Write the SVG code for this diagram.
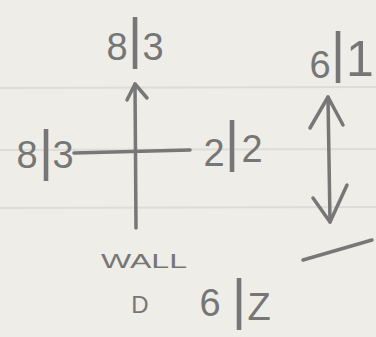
<svg xmlns="http://www.w3.org/2000/svg" width="376" height="337" viewBox="0 0 376 337">
<defs>
<style>
.bg{fill:#efede7}
.rule{stroke:#dcdcd8;stroke-width:2;fill:none}
.pen{stroke:#777777;stroke-width:3.5;fill:none;stroke-linecap:round;stroke-linejoin:round}
.t{font-family:"Liberation Sans","DejaVu Sans",sans-serif;fill:#767676;text-anchor:middle}
.big{font-size:38px}
.bar{font-size:56px}
.small{font-size:20px}
</style>
</defs>
<rect class="bg" x="0" y="0" width="376" height="337"/>
<g id="paper-rules">
<line class="rule" x1="0" y1="88" x2="376" y2="87"/>
<line class="rule" x1="0" y1="150" x2="376" y2="149"/>
<line class="rule" x1="0" y1="208" x2="376" y2="207"/>
</g>
<g id="connectors">
<path class="pen" d="M135,84 L136,228"/>
<path class="pen" d="M127,100 L135,84 L147,98"/>
<path class="pen" d="M74,153 L190,150"/>
<path class="pen" d="M328,97 L330,222"/>
<path class="pen" d="M310,128 L328,97 L343,125"/>
<path class="pen" d="M313,198 L330,222 L347,185"/>
<path class="pen" d="M303,260 L372,240"/>
</g>
<g id="node-top">
<text class="t big"><tspan x="117" y="60">8</tspan><tspan class="bar" x="135" y="57">|</tspan><tspan x="153" y="60">3</tspan></text>
</g>
<g id="node-left">
<text class="t big"><tspan x="27" y="168">8</tspan><tspan class="bar" x="46" y="169">|</tspan><tspan x="63" y="168">3</tspan></text>
</g>
<g id="node-right">
<text class="t big"><tspan x="214" y="166">2</tspan><tspan class="bar" x="232" y="160">|</tspan><tspan x="252" y="162">2</tspan></text>
</g>
<g id="node-far-right">
<text class="t big"><tspan x="320" y="78">6</tspan><tspan class="bar" x="338" y="71">|</tspan><tspan style="font-size:50px" x="360" y="76">1</tspan></text>
</g>
<g id="node-wall">
<text class="t small" x="144" y="268" textLength="86" lengthAdjust="spacingAndGlyphs">WALL</text>
</g>
<g id="node-bottom">
<text class="t"><tspan style="font-size:24px" x="140" y="313">D</tspan><tspan class="big" x="210" y="316">6</tspan><tspan class="bar" x="239" y="318">|</tspan><tspan class="big" x="259" y="320">Z</tspan></text>
</g>
</svg>
